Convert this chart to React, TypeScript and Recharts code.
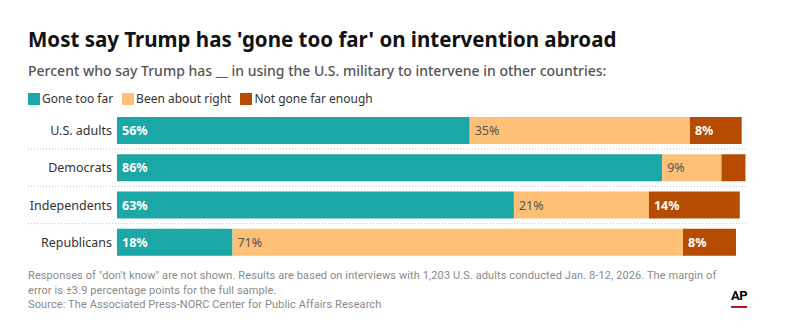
import React from "react";
import { BarChart, Bar, XAxis, YAxis, LabelList } from "recharts";

const categories = ["U.S. adults", "Democrats", "Independents", "Republicans"];
const goneTooFar = [55.9, 86.4, 62.9, 18.3];
const aboutRight = [34.9, 9.4, 21.4, 71.4];
const notFarEnough = [8.2, 3.8, 14.4, 8.4];

const seriesNames = ["Gone too far", "Been about right", "Not gone far enough"];
const seriesColors = ["#1ba7a6", "#fec077", "#b54c02"];
const labelColors = ["#ffffff", "#555555", "#ffffff"];
const seriesKeys = ["gone", "right", "notEnough"];

const data = categories.map((name, i) => ({
  name,
  gone: goneTooFar[i],
  right: aboutRight[i],
  notEnough: notFarEnough[i],
}));

const FONT = "'Noto Sans', 'Open Sans', sans-serif";
const NARROW = "'Roboto', sans-serif";

function makeLabel(color: string, bold: boolean) {
  return (props: any) => {
    const { x, y, width, height, value } = props;
    if (value < 5) return null;
    return (
      <text
        x={x + 5}
        y={y + height / 2}
        dominantBaseline="central"
        fill={color}
        fontSize={12.5}
        fontWeight={bold ? 700 : 400}
        fontFamily={FONT}
      >
        {Math.round(value)}%
      </text>
    );
  };
}

const CategoryTick = (props: any) => {
  const { x, y, payload, index } = props;
  return (
    <g>
      <text
        x={x}
        y={y}
        textAnchor="end"
        dominantBaseline="central"
        fill="#333"
        fontSize={12.5}
        fontFamily={FONT}
      >
        {payload.value}
      </text>
      {index < categories.length - 1 && (
        <line
          x1={28}
          x2={748}
          y1={y + 18.5}
          y2={y + 18.5}
          stroke="#c4c4c4"
          strokeDasharray="1 2"
        />
      )}
    </g>
  );
};

export default function App() {
  return (
    <div
      style={{
        position: "absolute",
        top: 0,
        left: 0,
        width: 798,
        height: 334,
        background: "#fff",
        fontFamily: FONT,
        overflow: "hidden",
      }}
    >
      <div
        style={{
          position: "absolute",
          left: 28,
          top: 25,
          fontSize: 20.5,
          fontWeight: 700,
          color: "#111",
          whiteSpace: "nowrap",
        }}
      >
        Most say Trump has 'gone too far' on intervention abroad
      </div>
      <div
        style={{
          position: "absolute",
          left: 28,
          top: 61,
          fontSize: 14,
          fontWeight: 500,
          color: "#555",
          whiteSpace: "nowrap",
        }}
      >
        Percent who say Trump has __ in using the U.S. military to intervene in other countries:
      </div>
      <div
        style={{
          position: "absolute",
          left: 28,
          top: 90,
          display: "flex",
          alignItems: "center",
          fontSize: 12,
          color: "#333",
          whiteSpace: "nowrap",
        }}
      >
        {seriesNames.map((n, i) => (
          <div key={n} style={{ display: "flex", alignItems: "center", marginRight: 9 }}>
            <span
              style={{
                display: "inline-block",
                width: 12,
                height: 12,
                background: seriesColors[i],
                marginRight: 2,
              }}
            />
            {n}
          </div>
        ))}
      </div>

      <div style={{ position: "absolute", left: 0, top: 112 }}>
        <BarChart
          width={798}
          height={149}
          data={data}
          layout="vertical"
          margin={{ top: 0, right: 50, bottom: 0, left: 0 }}
          barSize={27}
        >
          <XAxis type="number" domain={[0, 100]} hide />
          <YAxis
            type="category"
            dataKey="name"
            width={117}
            axisLine={false}
            tickLine={false}
            tickSize={0}
            tickMargin={5}
            tick={<CategoryTick />}
          />
          {seriesKeys.map((k, i) => (
            <Bar
              key={k}
              dataKey={k}
              name={seriesNames[i]}
              stackId="a"
              fill={seriesColors[i]}
              isAnimationActive={false}
            >
              <LabelList dataKey={k} content={makeLabel(labelColors[i], i !== 1)} />
            </Bar>
          ))}
        </BarChart>
      </div>

      <div
        style={{
          position: "absolute",
          left: 28,
          top: 268,
          fontSize: 11,
          lineHeight: "15px",
          letterSpacing: 0.1,
          color: "#8a8a8a",
          fontFamily: NARROW,
          whiteSpace: "nowrap",
        }}
      >
        Responses of "don't know" are not shown. Results are based on interviews with 1,203 U.S. adults conducted Jan. 8-12, 2026. The margin of
        <br />
        error is ±3.9 percentage points for the full sample.
      </div>
      <div
        style={{
          position: "absolute",
          left: 28,
          top: 298,
          fontSize: 11,
          letterSpacing: 0.1,
          color: "#8a8a8a",
          fontFamily: NARROW,
          whiteSpace: "nowrap",
        }}
      >
        Source: The Associated Press-NORC Center for Public Affairs Research
      </div>
      <div
        style={{
          position: "absolute",
          left: 731,
          top: 289,
          fontSize: 13,
          fontWeight: 700,
          color: "#000",
          fontFamily: NARROW,
          letterSpacing: -0.5,
          borderBottom: "2px solid #c8102e",
          lineHeight: "14px",
          paddingBottom: 3,
        }}
      >
        AP
      </div>
    </div>
  );
}
